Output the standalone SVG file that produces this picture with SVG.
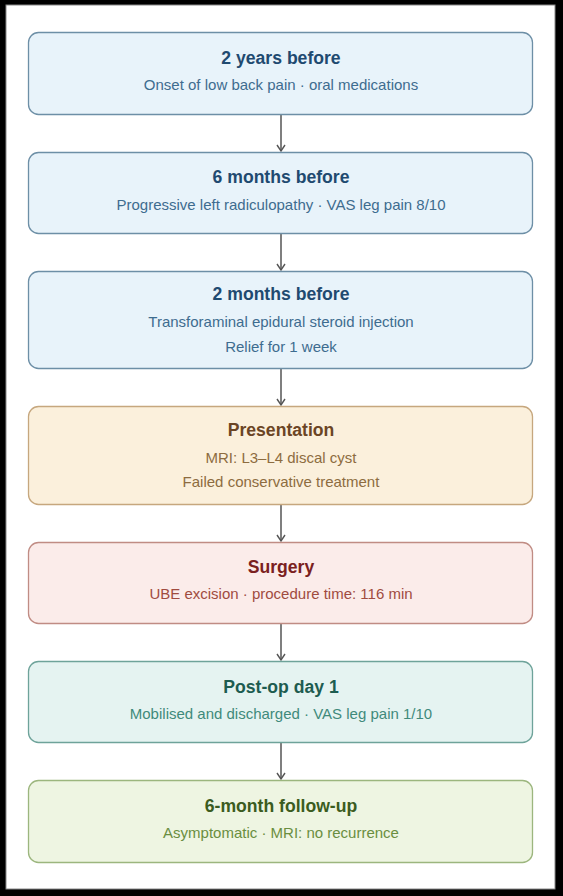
<svg xmlns="http://www.w3.org/2000/svg" width="563" height="896" viewBox="0 0 563 896">
<defs>
<marker id="arr" viewBox="0 0 10 10" refX="9" refY="5" markerWidth="10" markerHeight="10" markerUnits="userSpaceOnUse" orient="auto">
<path d="M3,1 L9,5 L3,9" fill="none" stroke="#555" stroke-width="1.4"/>
</marker>
</defs>
<style>
text{font-family:"Liberation Sans",Arial,sans-serif;text-anchor:middle}
.t{font-size:17.6px;font-weight:bold}
.s{font-size:15px}
.box{stroke-width:1.3}
.blue rect{fill:#e8f3fa;stroke:#6d8fa6}
.blue .t{fill:#1f4a70}
.blue .s{fill:#3e6c8f}
.tan rect{fill:#fbf0dc;stroke:#c6a77e}
.tan .t{fill:#6b4525}
.tan .s{fill:#8d6c40}
.red rect{fill:#fbecea;stroke:#c08c84}
.red .t{fill:#7a2020}
.red .s{fill:#a04b3f}
.teal rect{fill:#e5f3f1;stroke:#6ea39a}
.teal .t{fill:#1d5c50}
.teal .s{fill:#3f8a7b}
.green rect{fill:#eef5e2;stroke:#9cb67e}
.green .t{fill:#3b5c20}
.green .s{fill:#6a8e40}
.conn line{stroke:#555;stroke-width:1.5;marker-end:url(#arr)}
</style>
<rect x="0" y="0" width="563" height="896" fill="#000"/>
<rect x="6" y="5" width="549" height="884" fill="#fff" stroke="#888" stroke-width="1"/>
<g class="conn" id="connectors">
<line x1="281" y1="115" x2="281" y2="151"/>
<line x1="281" y1="234" x2="281" y2="270"/>
<line x1="281" y1="369" x2="281" y2="405"/>
<line x1="281" y1="505" x2="281" y2="541"/>
<line x1="281" y1="624" x2="281" y2="660"/>
<line x1="281" y1="743" x2="281" y2="779"/>
</g>
<g id="n1" class="blue"><rect class="box" x="28.5" y="32.5" width="504" height="82" rx="10"/>
<text class="t" x="281" y="64">2 years before</text>
<text class="s" x="281" y="90">Onset of low back pain · oral medications</text></g>
<g id="n2" class="blue"><rect class="box" x="28.5" y="152.5" width="504" height="81" rx="10"/>
<text class="t" x="281" y="183">6 months before</text>
<text class="s" x="281" y="210">Progressive left radiculopathy · VAS leg pain 8/10</text></g>
<g id="n3" class="blue"><rect class="box" x="28.5" y="271.5" width="504" height="97" rx="10"/>
<text class="t" x="281" y="300">2 months before</text>
<text class="s" x="281" y="327">Transforaminal epidural steroid injection</text>
<text class="s" x="281" y="352">Relief for 1 week</text></g>
<g id="n4" class="tan"><rect class="box" x="28.5" y="406.5" width="504" height="98" rx="10"/>
<text class="t" x="281" y="436">Presentation</text>
<text class="s" x="281" y="463">MRI: L3–L4 discal cyst</text>
<text class="s" x="281" y="487">Failed conservative treatment</text></g>
<g id="n5" class="red"><rect class="box" x="28.5" y="542.5" width="504" height="81" rx="10"/>
<text class="t" x="281" y="573">Surgery</text>
<text class="s" x="281" y="599">UBE excision · procedure time: 116 min</text></g>
<g id="n6" class="teal"><rect class="box" x="28.5" y="661.5" width="504" height="81" rx="10"/>
<text class="t" x="281" y="693">Post-op day 1</text>
<text class="s" x="281" y="719">Mobilised and discharged · VAS leg pain 1/10</text></g>
<g id="n7" class="green"><rect class="box" x="28.5" y="780.5" width="504" height="82" rx="10"/>
<text class="t" x="281" y="812">6-month follow-up</text>
<text class="s" x="281" y="838">Asymptomatic · MRI: no recurrence</text></g>
</svg>
